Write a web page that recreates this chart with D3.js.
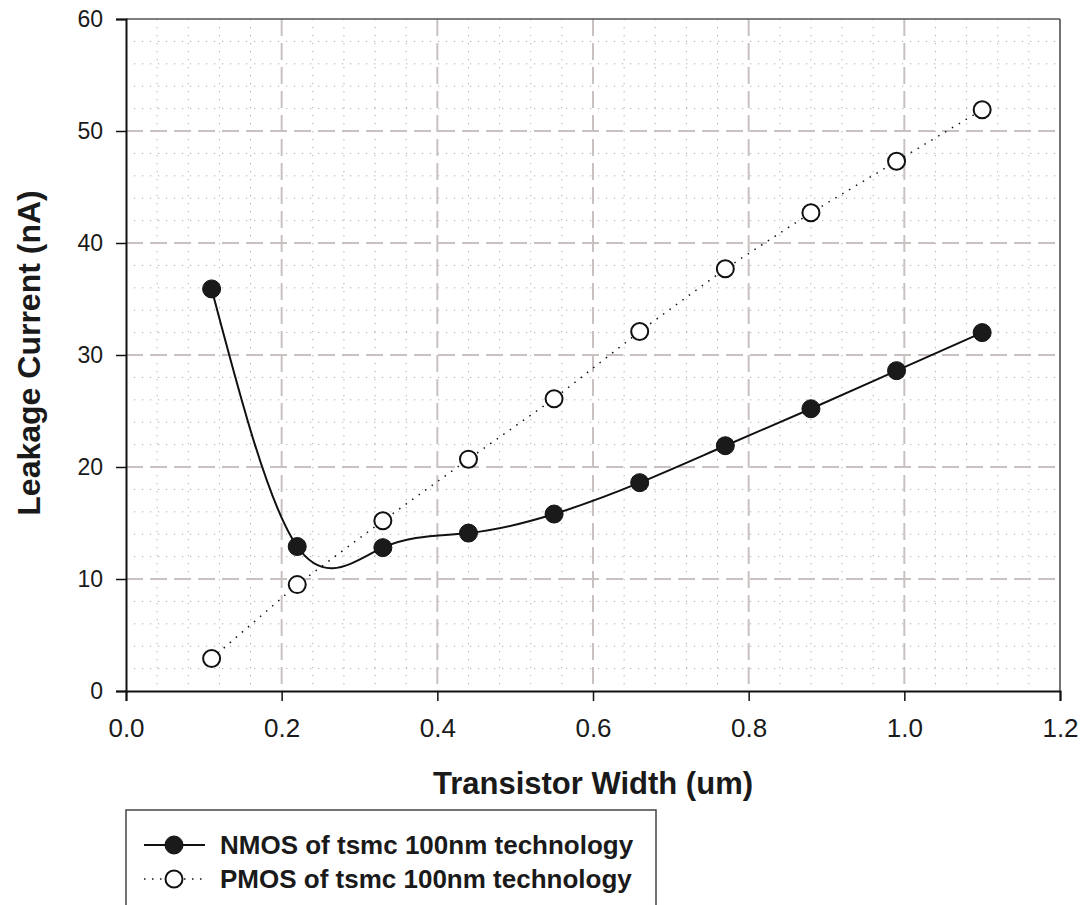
<!DOCTYPE html>
<html><head><meta charset="utf-8">
<script src="https://cdn.jsdelivr.net/npm/d3@7/dist/d3.min.js"></script>
<style>body{margin:0;background:#fff}svg{display:block}text{font-family:"Liberation Sans",Arial,sans-serif;fill:#1a1a1a}</style>
</head><body>
<svg id="c" width="1081" height="905"></svg>
<script>
const widths = [0.11, 0.22, 0.33, 0.44, 0.55, 0.66, 0.77, 0.88, 0.99, 1.10];
const nmos = [35.9, 12.9, 12.8, 14.1, 15.8, 18.6, 21.9, 25.2, 28.6, 32.0];
const pmos = [2.9, 9.5, 15.2, 20.7, 26.1, 32.1, 37.7, 42.7, 47.3, 51.9];
const xTicks = [0.0, 0.2, 0.4, 0.6, 0.8, 1.0, 1.2];
const yTicks = [0, 10, 20, 30, 40, 50, 60];
const seriesNames = ["NMOS of tsmc 100nm technology", "PMOS of tsmc 100nm technology"];

const svg = d3.select("#c");
const L = 126, R = 1060, T = 19, B = 691;
const x = d3.scaleLinear().domain([0, 1.2]).range([L, R]);
const y = d3.scaleLinear().domain([0, 60]).range([B, T]);
const grid = "#c9c0c0";

// minor grid
const g = svg.append("g");
g.selectAll(".mx").data(d3.range(0, 1.2001, 0.04).filter((v,i)=>i%5!==0))
  .enter().append("line").attr("x1", d=>x(d)).attr("x2", d=>x(d)).attr("y1", T).attr("y2", B)
  .attr("stroke", "#b0a8a8").attr("stroke-width", 1).attr("stroke-dasharray", "1.2,6.8");
g.selectAll(".my").data(d3.range(0, 60.001, 2).filter((v,i)=>i%5!==0))
  .enter().append("line").attr("y1", d=>y(d)).attr("y2", d=>y(d)).attr("x1", L).attr("x2", R)
  .attr("stroke", "#b0a8a8").attr("stroke-width", 1).attr("stroke-dasharray", "1.2,6.8");
// major grid
g.selectAll(".Mx").data(xTicks.slice(1, -1))
  .enter().append("line").attr("x1", d=>x(d)).attr("x2", d=>x(d)).attr("y1", T).attr("y2", B)
  .attr("stroke", grid).attr("stroke-width", 2).attr("stroke-dasharray", "17,7");
g.selectAll(".My").data(yTicks.slice(1, -1))
  .enter().append("line").attr("y1", d=>y(d)).attr("y2", d=>y(d)).attr("x1", L).attr("x2", R)
  .attr("stroke", grid).attr("stroke-width", 2).attr("stroke-dasharray", "17,7");

// frame
svg.append("line").attr("x1", L).attr("x2", R).attr("y1", T).attr("y2", T).attr("stroke", "#555").attr("stroke-width", 1.5);
svg.append("line").attr("x1", R).attr("x2", R).attr("y1", T).attr("y2", B).attr("stroke", "#444").attr("stroke-width", 1.5);

// axes
const xAxis = svg.append("g").attr("transform", `translate(0,${B})`)
  .call(d3.axisBottom(x).tickValues(xTicks).tickFormat(d3.format(".1f")).tickSize(10).tickPadding(18));
const yAxis = svg.append("g").attr("transform", `translate(${L},0)`)
  .call(d3.axisLeft(y).tickValues(yTicks).tickFormat(d3.format("d")).tickSize(10).tickPadding(13));
[xAxis, yAxis].forEach(a => {
  a.select(".domain").attr("stroke", "#111").attr("stroke-width", 2);
  a.selectAll(".tick line").attr("stroke", "#111").attr("stroke-width", 1.5);
  a.selectAll(".tick text").style("font-family", "Liberation Sans, Arial, sans-serif").attr("fill", "#1a1a1a");
});
xAxis.selectAll(".tick text").style("font-size", "26px");
yAxis.selectAll(".tick text").style("font-size", "23px");

// titles
svg.append("text").attr("x", 593).attr("y", 794).attr("text-anchor", "middle")
  .style("font-size", "31px").style("font-weight", "bold").text("Transistor Width (um)");
svg.append("text").attr("transform", "translate(40,353) rotate(-90)").attr("text-anchor", "middle")
  .style("font-size", "32px").style("font-weight", "bold").text("Leakage Current (nA)");

// series
const pts = a => widths.map((w, i) => [w, a[i]]);
svg.append("path").datum(pts(pmos))
  .attr("d", d3.line().x(d=>x(d[0])).y(d=>y(d[1])))
  .attr("fill", "none").attr("stroke", "#111").attr("stroke-width", 1.5).attr("stroke-dasharray", "1.5,6.5");
svg.append("path").datum(pts(nmos))
  .attr("d", d3.line().x(d=>x(d[0])).y(d=>y(d[1])).curve(d3.curveNatural))
  .attr("fill", "none").attr("stroke", "#111").attr("stroke-width", 2);
svg.selectAll(".pm").data(pts(pmos)).enter().append("circle")
  .attr("cx", d=>x(d[0])).attr("cy", d=>y(d[1])).attr("r", 8.5)
  .attr("fill", "#fff").attr("stroke", "#111").attr("stroke-width", 2);
svg.selectAll(".nm").data(pts(nmos)).enter().append("circle")
  .attr("cx", d=>x(d[0])).attr("cy", d=>y(d[1])).attr("r", 9)
  .attr("fill", "#1a1a1a").attr("stroke", "#111").attr("stroke-width", 1);

// legend
svg.append("path").attr("d", `M126,915 V810 H656 V915`).attr("fill", "none").attr("stroke", "#444").attr("stroke-width", 1.5);
const leg = [{y: 845, filled: true}, {y: 879, filled: false}];
leg.forEach((l, i) => {
  svg.append("line").attr("x1", 144).attr("x2", 205).attr("y1", l.y).attr("y2", l.y)
    .attr("stroke", "#111").attr("stroke-width", l.filled ? 2 : 1.5)
    .attr("stroke-dasharray", l.filled ? null : "1.5,6.5");
  svg.append("circle").attr("cx", 174).attr("cy", l.y).attr("r", l.filled ? 9 : 8.5)
    .attr("fill", l.filled ? "#1a1a1a" : "#fff").attr("stroke", "#111").attr("stroke-width", l.filled ? 1 : 2);
  svg.append("text").attr("x", 220).attr("y", l.y + 9).style("font-size", "26px").style("font-weight", "bold")
    .text(seriesNames[i]);
});
</script>
</body></html>
